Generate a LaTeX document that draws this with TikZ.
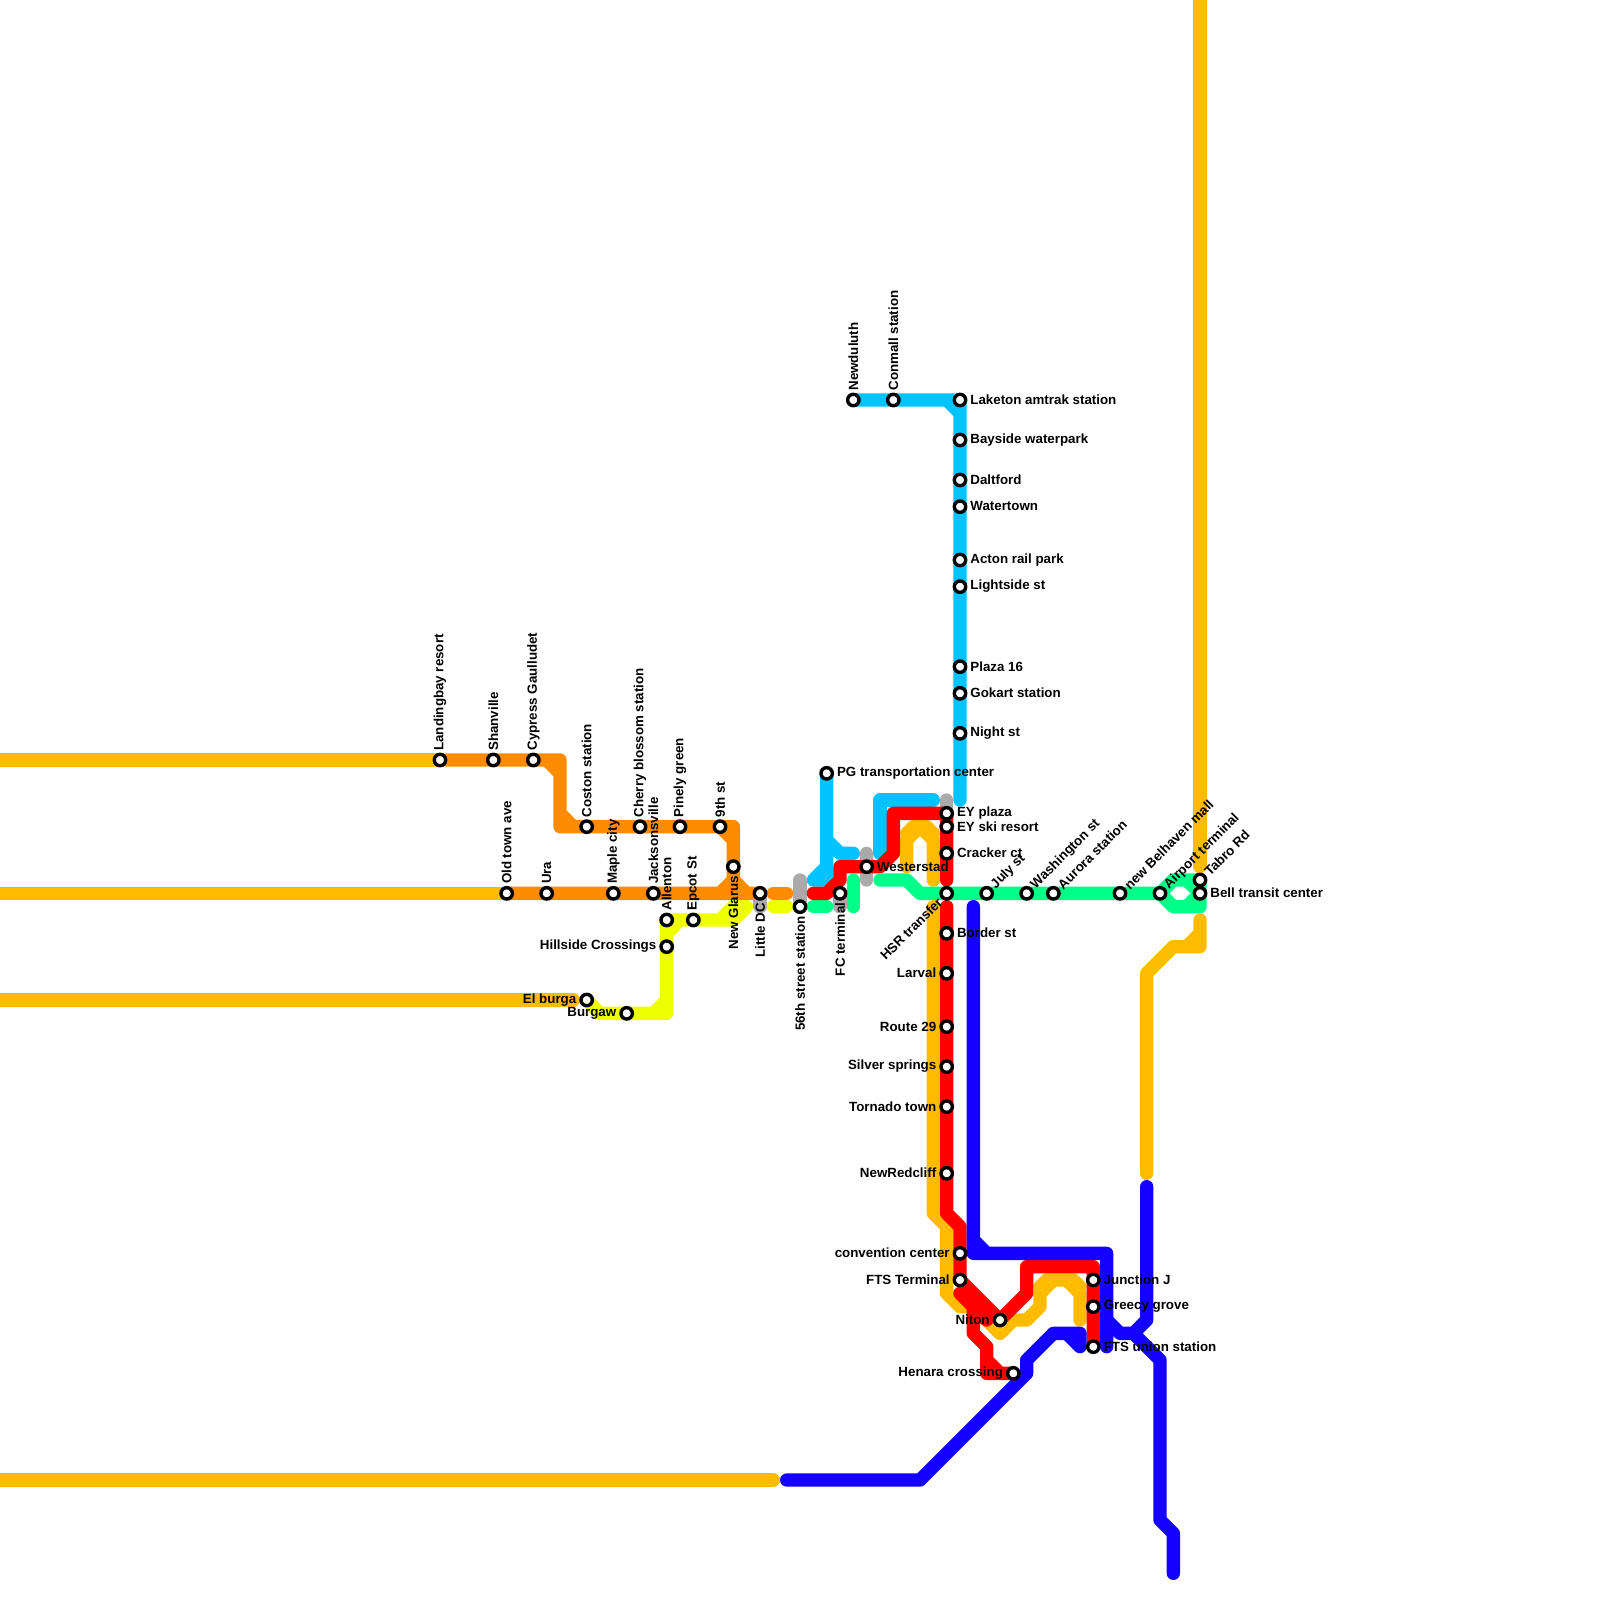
\documentclass[tikz,border=0pt]{standalone}
\usepackage{fontspec}
\setmainfont{Liberation Sans}
\usetikzlibrary{backgrounds}
\definecolor{mtgold}{RGB}{255,187,0}
\definecolor{mtorange}{RGB}{255,140,0}
\definecolor{mtyellow}{RGB}{238,255,0}
\definecolor{mtcyan}{RGB}{0,195,255}
\definecolor{mtgreen}{RGB}{0,255,136}
\definecolor{mtred}{RGB}{255,0,0}
\definecolor{mtblue}{RGB}{20,0,255}
\definecolor{mtgrey}{RGB}{170,170,170}
\begin{document}
\begin{tikzpicture}[
  x=6.667pt, y=-6.667pt,
  stn/.style={circle, draw=black, fill=white, line width=1.7pt, inner sep=0pt, minimum size=5.7pt},
  metro/.style={line width=6.667pt, line cap=round, line join=round},
  lbl/.style={font=\fontsize{6.667pt}{8pt}\selectfont\bfseries, inner sep=0.8pt, text=black},
  lblup/.style={lbl, rotate=90, anchor=west},
  lbldown/.style={lbl, rotate=90, anchor=east},
  lblne/.style={lbl, rotate=45, anchor=west},
  lblsw/.style={lbl, rotate=45, anchor=east},
  lblright/.style={lbl, yshift=0.1pt, xshift=0.5pt, anchor=west},
  lblleft/.style={lbl, yshift=0.1pt, xshift=-0.5pt, anchor=east}
]
\useasboundingbox (0,0) rectangle (120,120);

% Stations on the left
\node[stn] (landingbay) at (33,57) {};
\node[stn] (shanville) at (37,57) {};
\node[stn] (cypress) at (40,57) {};
\node[stn] (coston) at (44,62) {};
\node[stn] (cherry) at (48,62) {};
\node[stn] (pinely) at (51,62) {};
\node[stn] (ninth) at (54,62) {};
\node[stn] (glarus) at (55,65) {};
\node[stn] (oldtown) at (38,67) {};
\node[stn] (ura) at (41,67) {};
\node[stn] (maple) at (46,67) {};
\node[stn] (jackson) at (49,67) {};
\node[stn] (littledc) at (57,67) {};
\node[stn] (allenton) at (50,69) {};
\node[stn] (epcot) at (52,69) {};
\node[stn] (hillside) at (50,71) {};
\node[stn] (elburga) at (44,75) {};
\node[stn] (burgaw) at (47,76) {};

% Stations in the middle
\node[stn] (fiftysix) at (60,68) {};
\node[stn] (fcterm) at (63,67) {};
\node[stn] (westerstad) at (65,65) {};
\node[stn] (pgcenter) at (62,58) {};
\node[stn] (newduluth) at (64,30) {};
\node[stn] (conmall) at (67,30) {};
\node[stn] (laketon) at (72,30) {};
\node[stn] (bayside) at (72,33) {};
\node[stn] (daltford) at (72,36) {};
\node[stn] (watertown) at (72,38) {};
\node[stn] (acton) at (72,42) {};
\node[stn] (lightside) at (72,44) {};
\node[stn] (plaza) at (72,50) {};
\node[stn] (gokart) at (72,52) {};
\node[stn] (nightst) at (72,55) {};
\node[stn] (eyplaza) at (71,61) {};
\node[stn] (eyski) at (71,62) {};
\node[stn] (cracker) at (71,64) {};
\node[stn] (hsr) at (71,67) {};

% Stations on the right
\node[stn] (july) at (74,67) {};
\node[stn] (washington) at (77,67) {};
\node[stn] (aurora) at (79,67) {};
\node[stn] (belhaven) at (84,67) {};
\node[stn] (airport) at (87,67) {};
\node[stn] (tabro) at (90,66) {};
\node[stn] (bell) at (90,67) {};

% Stations at the bottom
\node[stn] (border) at (71,70) {};
\node[stn] (larval) at (71,73) {};
\node[stn] (route) at (71,77) {};
\node[stn] (silver) at (71,80) {};
\node[stn] (tornado) at (71,83) {};
\node[stn] (redcliff) at (71,88) {};
\node[stn] (convention) at (72,94) {};
\node[stn] (ftsterm) at (72,96) {};
\node[stn] (niton) at (75,99) {};
\node[stn] (henara) at (76,103) {};
\node[stn] (junction) at (82,96) {};
\node[stn] (greecy) at (82,98) {};
\node[stn] (ftsunion) at (82,101) {};

\begin{scope}[on background layer]
% Grey stubs
\draw[metro, mtgrey] (60,66) -- (fiftysix.center);
\draw[metro, mtgrey] (65,64) -- (65,66);
\draw[metro, mtgrey] (littledc.center) -- (57,68);
\draw[metro, mtgrey] (fcterm.center) -- (63,68);
\draw[metro, mtgrey] (71,60) -- (eyplaza.center);

% Gold
\draw[metro, mtgold] (-1,57) -- (landingbay.center);
\draw[metro, mtgold] (-1,67) -- (oldtown.center);
\draw[metro, mtgold] (-1,75) -- (43,75);
\draw[metro, mtgold] (-1,111) -- (58,111);
\draw[metro, mtgold] (90,-1) -- (90,65);
\draw[metro, mtgold] (90,69) -- (90,71) -- (88,71) -- (86,73) -- (86,88) (89,71) -- (90,70);
\draw[metro, mtgold] (68,65) -- (68,63) -- (69,62) -- (70,63) -- (70,66) (68,62.5) -- (68.5,62) -- (69.5,62) -- (70,62.5);
\draw[metro, mtgold] (70,68) -- (70,91) -- (71,92) -- (71,97) -- (72,98) -- (73,98) -- (75,100) -- (76,99) -- (77,99) -- (78,98) -- (78,97) -- (79,96) -- (80,96) -- (81,97) -- (81,99) (78,96.5) -- (78.5,96) -- (80.5,96) -- (81,96.5);

% Orange
\draw[metro, mtorange] (landingbay.center) -- (42,57) -- (42,62) -- (55,62) -- (glarus.center) -- (55,66) -- (56,67) (41,57) -- (42,58) (42,61) -- (43,62) (ninth.center) -- (55,63);
\draw[metro, mtorange] (oldtown.center) -- (littledc.center) (54,67) -- (55,66);
\draw[metro, mtorange] (58,67) -- (59,67);

% Yellow
\draw[metro, mtyellow] (elburga.center) -- (45,76) -- (50,76) -- (allenton.center) -- (54,69) -- (55,68) -- (56,68) -- (55,69) -- (54,69) (49,76) -- (50,75) (50,70) -- (51,69);
\draw[metro, mtyellow] (58,68) -- (59,68);

% Cyan
\draw[metro, mtcyan] (newduluth.center) -- (laketon.center) -- (72,60) (71,30) -- (72,31);
\draw[metro, mtcyan] (pgcenter.center) -- (62,66) -- (61,66) -- (62,65) (62,63) -- (63,64) -- (64,64);
\draw[metro, mtcyan] (70,60) -- (66,60) -- (66,64);

% Green
\draw[metro, mtgreen] (61,68) -- (62,68);
\draw[metro, mtgreen] (64,66) -- (64,68);
\draw[metro, mtgreen] (66,66) -- (68,66) -- (69,67) -- (airport.center);
\draw[metro, mtgreen] (airport.center) -- (88,66) -- (90,66) -- (90,68) -- (88,68) -- cycle (89,66) -- (90,67) -- (89,68);

% Red
\draw[metro, mtred] (61,67) -- (62,67) -- (63,66) -- (63,65) -- (66,65) -- (67,64) -- (67,61) -- (71,61) -- (71,66);
\draw[metro, mtred] (71,68) -- (71,91) -- (72,92) -- (ftsterm.center) -- (niton.center) -- (77,97) -- (77,95) -- (82,95) -- (ftsunion.center);
\draw[metro, mtred] (72,97) -- (74,99) (73,98) -- (73,100) -- (74,101) -- (74,103) -- (henara.center) (74,102) -- (75,103);

% Dark blue
\draw[metro, mtblue] (73,68) -- (73,94) -- (83,94) -- (83,101) (73,93) -- (74,94);
\draw[metro, mtblue] (86,89) -- (86,99) -- (85,100) -- (84,100) -- (83,99) (85,100) -- (87,102) -- (87,114) -- (88,115) -- (88,118);
\draw[metro, mtblue] (59,111) -- (69,111) -- (77,103) -- (77,102) -- (79,100) -- (81,100) -- (81,101) (80,100) -- (81,101);
\end{scope}

% Labels above
\node[lblup] (landingbaytxt) at (landingbay.north) {Landingbay resort};
\node[lblup] (shanvilletxt) at (shanville.north) {Shanville};
\node[lblup] (cypresstxt) at (cypress.north) {Cypress Gaulludet};
\node[lblup] (costontxt) at (coston.north) {Coston station};
\node[lblup] (cherrytxt) at (cherry.north) {Cherry blossom station};
\node[lblup] (pinelytxt) at (pinely.north) {Pinely green};
\node[lblup] (ninthtxt) at (ninth.north) {9th st};
\node[lblup] (oldtowntxt) at (oldtown.north) {Old town ave};
\node[lblup] (uratxt) at (ura.north) {Ura};
\node[lblup] (mapletxt) at (maple.north) {Maple city};
\node[lblup] (jacksontxt) at (jackson.north) {Jacksonsville};
\node[lblup] (allentontxt) at (allenton.north) {Allenton};
\node[lblup] (epcottxt) at (epcot.north) {Epcot St};
\node[lblup] (newduluthtxt) at (newduluth.north) {Newduluth};
\node[lblup] (conmalltxt) at (conmall.north) {Conmall station};

% Labels below
\node[lbldown] (glarustxt) at (glarus.south) {New Glarus};
\node[lbldown] (littledctxt) at (littledc.south) {Little DC};
\node[lbldown] (fiftysixtxt) at (fiftysix.south) {56th street station};
\node[lbldown] (fctermtxt) at (fcterm.south) {FC terminal};
\node[lblsw] (hsrtxt) at (hsr.south west) {HSR transfer};

% Labels at an angle
\node[lblne] (julytxt) at (july.north east) {July st};
\node[lblne] (washingtontxt) at (washington.north east) {Washington st};
\node[lblne] (auroratxt) at (aurora.north east) {Aurora station};
\node[lblne] (belhaventxt) at (belhaven.north east) {new Belhaven mall};
\node[lblne] (airporttxt) at (airport.north east) {Airport terminal};
\node[lblne] (tabrotxt) at (tabro.north east) {Tabro Rd};

% Labels to the right
\node[lblright] (pgcentertxt) at (pgcenter.east) {PG transportation center};
\node[lblright] (westerstadtxt) at (westerstad.east) {Westerstad};
\node[lblright] (laketontxt) at (laketon.east) {Laketon amtrak station};
\node[lblright] (baysidetxt) at (bayside.east) {Bayside waterpark};
\node[lblright] (daltfordtxt) at (daltford.east) {Daltford};
\node[lblright] (watertowntxt) at (watertown.east) {Watertown};
\node[lblright] (actontxt) at (acton.east) {Acton rail park};
\node[lblright] (lightsidetxt) at (lightside.east) {Lightside st};
\node[lblright] (plazatxt) at (plaza.east) {Plaza 16};
\node[lblright] (gokarttxt) at (gokart.east) {Gokart station};
\node[lblright] (nightsttxt) at (nightst.east) {Night st};
\node[lblright] (eyplazatxt) at (eyplaza.east) {EY plaza};
\node[lblright] (eyskitxt) at (eyski.east) {EY ski resort};
\node[lblright] (crackertxt) at (cracker.east) {Cracker ct};
\node[lblright] (belltxt) at (bell.east) {Bell transit center};
\node[lblright] (bordertxt) at (border.east) {Border st};
\node[lblright] (junctiontxt) at (junction.east) {Junction J};
\node[lblright] (greecytxt) at (greecy.east) {Greecy grove};
\node[lblright] (ftsuniontxt) at (ftsunion.east) {FTS union station};

% Labels to the left
\node[lblleft] (hillsidetxt) at (hillside.west) {Hillside Crossings};
\node[lblleft] (elburgatxt) at (elburga.west) {El burga};
\node[lblleft] (burgawtxt) at (burgaw.west) {Burgaw};
\node[lblleft] (larvaltxt) at (larval.west) {Larval};
\node[lblleft] (routetxt) at (route.west) {Route 29};
\node[lblleft] (silvertxt) at (silver.west) {Silver springs};
\node[lblleft] (tornadotxt) at (tornado.west) {Tornado town};
\node[lblleft] (redclifftxt) at (redcliff.west) {NewRedcliff};
\node[lblleft] (conventiontxt) at (convention.west) {convention center};
\node[lblleft] (ftstermtxt) at (ftsterm.west) {FTS Terminal};
\node[lblleft] (nitontxt) at (niton.west) {Niton};
\node[lblleft] (henaratxt) at (henara.west) {Henara crossing};
\end{tikzpicture}
\end{document}
